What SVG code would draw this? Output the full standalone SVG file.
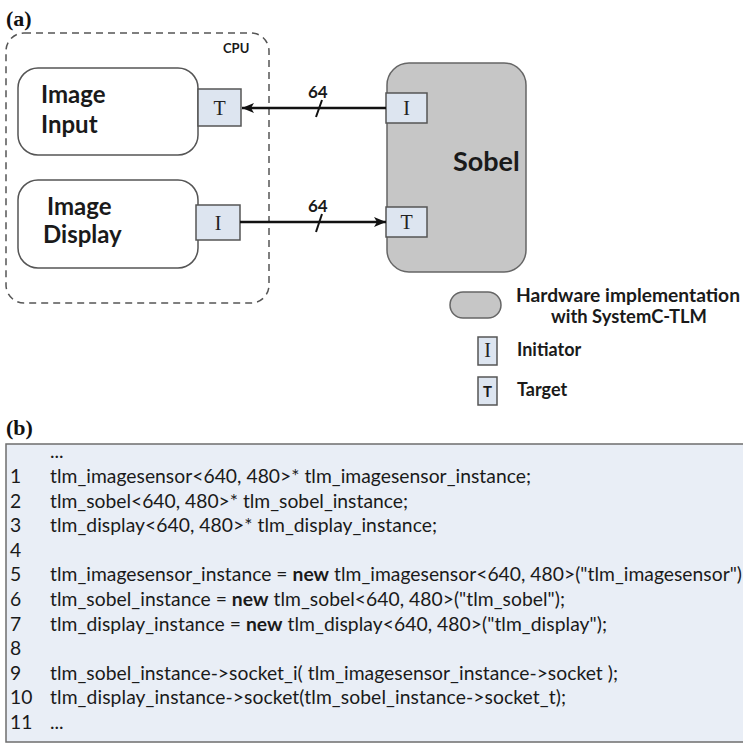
<svg xmlns="http://www.w3.org/2000/svg" width="743" height="744" viewBox="0 0 743 744">
  <defs>
    <marker id="arrow" viewBox="0 0 12 10" refX="12" refY="5" markerWidth="12" markerHeight="10" markerUnits="userSpaceOnUse" orient="auto">
      <path d="M0,0 L12,5 L0,10 L3,5 Z" fill="#111"/>
    </marker>
  </defs>
  <style>
    .label { font-family: "Lato", "Open Sans", sans-serif; fill: #1a1a1a; }
    .panel { font-family: "Liberation Serif", serif; font-weight: bold; font-size: 22px; fill: #111; }
    .block { fill: #ffffff; stroke: #555; stroke-width: 1.5; }
    .port { fill: #dde5f0; stroke: #555; stroke-width: 1.5; }
    .portText { font-family: "Liberation Serif", serif; font-size: 20px; fill: #222; text-anchor: middle; }
    .hw { fill: #c6c6c6; stroke: #666; stroke-width: 1.5; }
    .wire { stroke: #111; stroke-width: 2.5; fill: none; }
    .width { font-size: 17px; font-weight: bold; }
    .legendText { font-size: 18px; font-weight: bold; }
    .code { font-family: "Lato", "Open Sans", sans-serif; font-size: 19.3px; fill: #1a1a1a; }
    .code .kw { font-weight: bold; }
  </style>

  <!-- panel (a) -->
  <text class="panel" x="6" y="26">(a)</text>

  <g id="cpu">
    <rect x="6" y="33" width="263" height="270" rx="18" fill="none" stroke="#555" stroke-width="1.5" stroke-dasharray="7,5"/>
    <text class="label" x="223" y="53" font-size="13" font-weight="bold">CPU</text>
  </g>

  <g id="image-input">
    <rect class="block" x="18" y="68" width="180" height="87" rx="20"/>
    <text class="label" x="41" y="103" font-size="24" font-weight="bold">Image</text>
    <text class="label" x="41" y="133" font-size="24" font-weight="bold">Input</text>
    <rect class="port" x="198" y="89" width="43" height="37"/>
    <text class="portText" x="219.5" y="115">T</text>
  </g>

  <g id="image-display">
    <rect class="block" x="18" y="180" width="180" height="88" rx="20"/>
    <text class="label" x="47" y="215" font-size="24" font-weight="bold">Image</text>
    <text class="label" x="43" y="243" font-size="24" font-weight="bold">Display</text>
    <rect class="port" x="196" y="205" width="44" height="35"/>
    <text class="portText" x="218" y="230">I</text>
  </g>

  <g id="sobel">
    <rect class="hw" x="387" y="63" width="139" height="209" rx="22"/>
    <text class="label" x="453" y="171" font-size="27" font-weight="bold">Sobel</text>
    <rect class="port" x="386" y="93" width="41" height="30"/>
    <text class="portText" x="406.5" y="115">I</text>
    <rect class="port" x="386" y="207" width="41" height="30"/>
    <text class="portText" x="406.5" y="229">T</text>
  </g>

  <g id="connectors">
    <line class="wire" x1="386" y1="108" x2="242" y2="108" marker-end="url(#arrow)"/>
    <line x1="316" y1="117" x2="322" y2="100" stroke="#111" stroke-width="2"/>
    <text class="label width" x="308" y="98">64</text>

    <line class="wire" x1="240" y1="222" x2="386" y2="222" marker-end="url(#arrow)"/>
    <line x1="316" y1="232" x2="322" y2="214" stroke="#111" stroke-width="2"/>
    <text class="label width" x="308" y="212">64</text>
  </g>

  <g id="legend">
    <rect class="hw" x="450" y="292" width="51" height="26" rx="13"/>
    <text class="label legendText" x="516" y="302" textLength="224" lengthAdjust="spacingAndGlyphs">Hardware implementation</text>
    <text class="label legendText" x="551" y="323" textLength="156" lengthAdjust="spacingAndGlyphs">with SystemC-TLM</text>
    <rect class="port" x="478" y="337" width="19" height="28"/>
    <text class="portText" x="487.5" y="357" font-size="17">I</text>
    <text class="label legendText" x="517" y="356">Initiator</text>
    <rect class="port" x="478" y="377" width="19" height="28"/>
    <text class="label" x="487.5" y="397" font-size="15" font-weight="bold" text-anchor="middle">T</text>
    <text class="label legendText" x="517" y="396">Target</text>
  </g>

  <!-- panel (b) -->
  <text class="panel" x="6" y="435">(b)</text>

  <g id="code-listing">
    <rect x="6" y="444" width="745" height="298" fill="#e9eef6" stroke="#6e6e6e" stroke-width="1.5"/>
    <g class="code">
      <text x="50" y="458">...</text>
      <text x="10" y="483">1</text>
      <text x="50" y="483" textLength="481" lengthAdjust="spacing">tlm_imagesensor&lt;640, 480&gt;* tlm_imagesensor_instance;</text>
      <text x="10" y="507.6">2</text>
      <text x="50" y="507.6" textLength="358" lengthAdjust="spacing">tlm_sobel&lt;640, 480&gt;* tlm_sobel_instance;</text>
      <text x="10" y="532.2">3</text>
      <text x="50" y="532.2" textLength="387" lengthAdjust="spacing">tlm_display&lt;640, 480&gt;* tlm_display_instance;</text>
      <text x="10" y="556.8">4</text>
      <text x="10" y="581.4">5</text>
      <text x="50" y="581.4" textLength="692" lengthAdjust="spacing">tlm_imagesensor_instance = <tspan class="kw">new</tspan> tlm_imagesensor&lt;640, 480&gt;("tlm_imagesensor")</text>
      <text x="10" y="606">6</text>
      <text x="50" y="606" textLength="515" lengthAdjust="spacing">tlm_sobel_instance = <tspan class="kw">new</tspan> tlm_sobel&lt;640, 480&gt;("tlm_sobel");</text>
      <text x="10" y="630.6">7</text>
      <text x="50" y="630.6" textLength="557" lengthAdjust="spacing">tlm_display_instance = <tspan class="kw">new</tspan> tlm_display&lt;640, 480&gt;("tlm_display");</text>
      <text x="10" y="655.2">8</text>
      <text x="10" y="679.8">9</text>
      <text x="50" y="679.8" textLength="568" lengthAdjust="spacing">tlm_sobel_instance-&gt;socket_i( tlm_imagesensor_instance-&gt;socket );</text>
      <text x="10" y="704.4">10</text>
      <text x="50" y="704.4" textLength="516" lengthAdjust="spacing">tlm_display_instance-&gt;socket(tlm_sobel_instance-&gt;socket_t);</text>
      <text x="10" y="729">11</text>
      <text x="50" y="729">...</text>
    </g>
  </g>
</svg>
